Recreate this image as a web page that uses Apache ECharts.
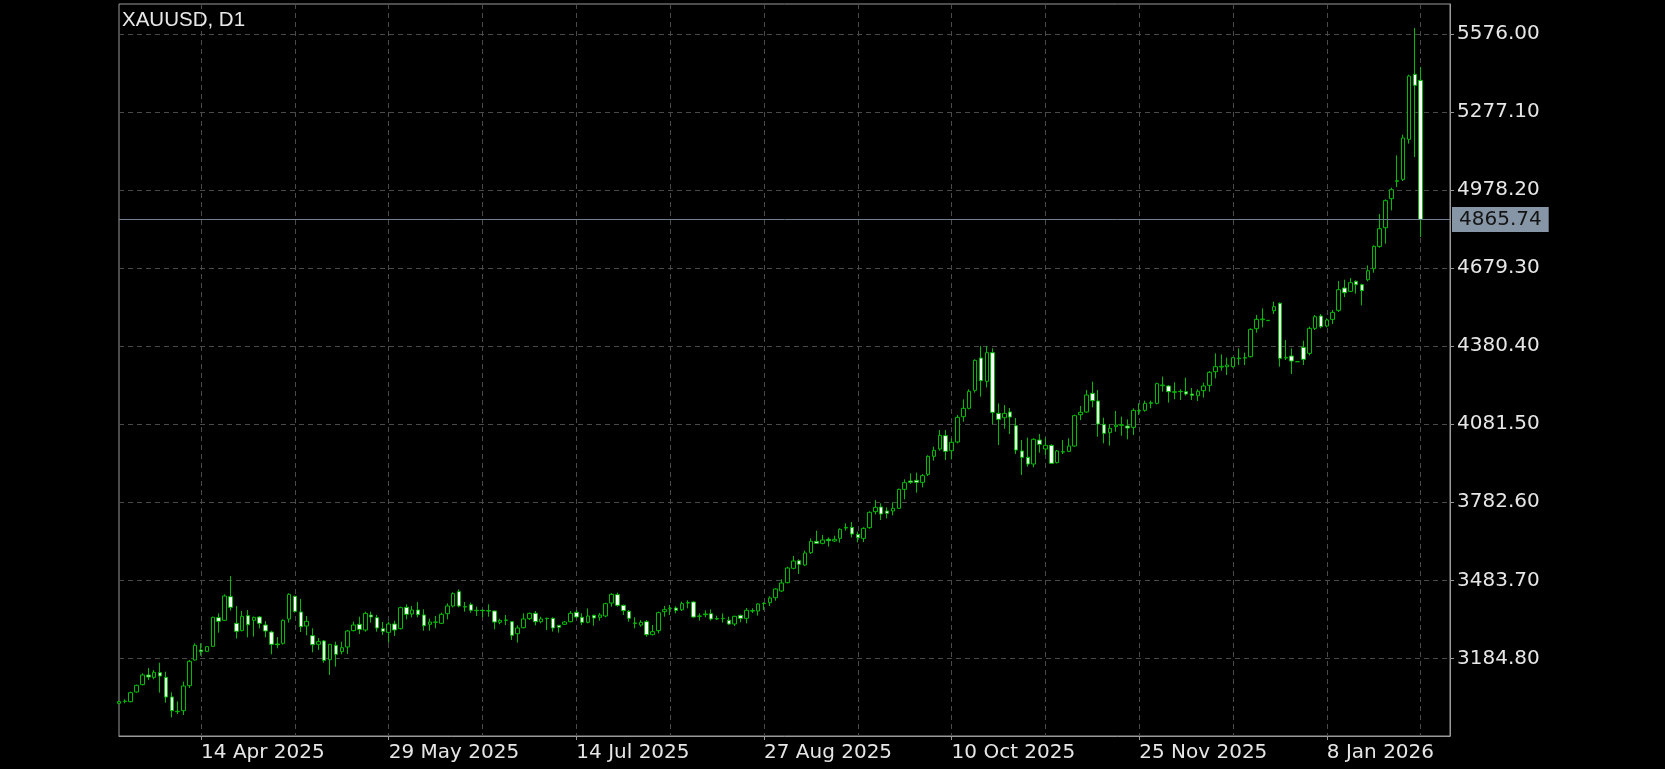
<!DOCTYPE html>
<html>
<head>
<meta charset="utf-8">
<script src="https://cdn.jsdelivr.net/npm/echarts@6/dist/echarts.min.js"></script>
<style>
html,body{margin:0;padding:0;background:#000;}
#chart{width:1665px;height:769px;}
</style>
</head>
<body>
<div id="chart"></div>
<script>
// XAUUSD daily bars (index 0 = first visible bar)
const open = [
3012.8,3020.0,3019.2,3056.2,3084.3,3121.3,3112.3,3130.2,3112.3,3037.0,
2980.9,2984.7,3080.4,3178.7,3217.0,3211.9,3231.0,3340.8,3330.6,3421.2,
3319.1,3291.0,3348.5,3330.6,3343.3,3312.7,3285.9,3240.0,3242.5,3335.7,
3422.5,3362.5,3308.9,3271.9,3238.7,3251.5,3180.0,3234.9,3210.6,3228.5,
3291.0,3315.3,3293.6,3351.0,3340.8,3298.7,3284.6,3316.5,3298.7,3380.4,
3354.8,3370.2,3351.0,3315.3,3322.9,3319.1,3356.1,3385.5,3440.4,3382.9,
3390.6,3367.6,3368.9,3367.6,3366.3,3322.9,3330.6,3325.5,3279.5,3302.5,
3337.0,3357.4,3325.5,3337.0,3338.2,3311.4,3315.3,3325.5,3361.2,3342.1,
3322.9,3349.7,3342.1,3347.2,3396.9,3428.8,3388.0,3365.0,3320.4,3312.7,
3325.5,3275.7,3291.0,3363.8,3375.3,3377.8,3371.4,3396.9,3400.8,3345.9,
3352.3,3356.1,3336.9,3336.9,3330.6,3316.5,3349.7,3338.2,3366.3,3366.3,
3394.4,3398.2,3417.4,3442.9,3474.8,3529.7,3559.0,3542.4,3589.7,3633.1,
3625.4,3640.7,3634.3,3644.5,3684.1,3686.6,3659.8,3644.5,3685.4,3746.6,
3764.5,3749.2,3749.2,3759.4,3832.1,3864.0,3866.6,3858.9,3889.6,3958.5,
3986.6,4037.6,3980.2,4013.4,4110.4,4142.3,4211.2,4335.0,4245.6,4355.4,
4123.1,4106.5,4128.2,4075.9,3978.9,3954.7,3929.1,4021.0,3986.6,4000.6,
3934.2,3975.1,3977.6,3998.0,4118.0,4128.2,4199.7,4170.3,4081.0,4049.1,
4072.1,4077.2,4074.6,4069.5,4132.1,4134.6,4161.4,4161.4,4229.0,4227.8,
4203.5,4206.1,4206.1,4197.1,4190.8,4209.9,4230.3,4282.6,4300.5,4301.8,
4301.8,4332.4,4335.0,4340.1,4447.3,4481.7,4477.9,4516.2,4544.3,4335.0,
4342.6,4320.9,4375.8,4352.9,4448.6,4495.8,4457.5,4483.0,4517.5,4603.0,
4590.2,4628.5,4615.8,4634.9,4677.0,4762.5,4834.0,4945.0,5011.4,5019.1,
5172.2,5421.1,5398.1
];
const high = [
3021.7,3028.1,3057.4,3084.3,3127.7,3148.1,3140.4,3168.5,3134.0,3054.9,
3020.5,3095.7,3178.7,3242.5,3242.5,3232.3,3344.6,3357.4,3430.1,3500.3,
3385.5,3366.3,3370.2,3344.6,3347.2,3328.0,3291.0,3266.8,3334.4,3434.0,
3425.0,3412.3,3347.2,3300.0,3263.0,3255.3,3240.0,3248.9,3248.9,3293.6,
3325.5,3344.6,3363.8,3363.8,3351.0,3324.2,3325.5,3329.3,3382.9,3391.9,
3385.5,3400.8,3372.7,3337.0,3347.2,3360.0,3395.7,3437.8,3449.3,3400.8,
3398.2,3382.9,3372.7,3391.9,3367.6,3337.0,3351.0,3328.0,3311.4,3357.4,
3360.0,3366.3,3344.6,3340.8,3342.1,3312.7,3328.0,3366.3,3370.2,3357.4,
3376.5,3352.3,3358.7,3398.2,3433.9,3436.5,3390.6,3370.2,3342.1,3331.9,
3331.9,3312.7,3363.8,3385.5,3389.3,3384.2,3402.1,3407.2,3403.3,3357.4,
3368.9,3372.7,3348.5,3357.4,3344.6,3348.5,3352.3,3377.8,3376.5,3395.7,
3399.5,3422.5,3453.1,3487.6,3536.1,3576.9,3564.2,3597.3,3644.5,3673.9,
3657.3,3648.3,3654.7,3682.8,3701.9,3707.0,3670.0,3686.6,3747.9,3791.3,
3778.5,3763.2,3782.4,3834.7,3870.4,3893.4,3895.9,3890.8,3962.3,3995.5,
4059.3,4059.3,4027.4,4116.7,4176.7,4215.0,4329.9,4380.9,4380.9,4372.0,
4161.4,4155.0,4143.6,4105.3,4021.0,4030.0,4027.4,4044.0,4030.0,4004.4,
3982.7,4021.0,4027.4,4118.0,4151.2,4212.5,4244.4,4212.5,4106.5,4082.3,
4132.1,4110.4,4100.1,4142.3,4161.4,4171.6,4171.6,4240.5,4263.5,4231.6,
4241.8,4215.0,4259.7,4220.1,4215.0,4240.5,4285.2,4352.9,4349.0,4336.3,
4338.8,4372.0,4355.4,4448.6,4499.6,4525.1,4480.5,4550.7,4548.1,4403.9,
4372.0,4322.2,4401.3,4455.0,4499.6,4503.4,4486.9,4518.8,4629.8,4634.9,
4641.3,4632.3,4619.6,4689.8,4766.4,4886.3,4942.5,4987.2,5111.0,5190.1,
5419.8,5598.5,5449.2
];
const low = [
3009.0,3012.8,3016.6,3053.6,3081.7,3102.1,3104.7,3053.6,3015.4,2959.2,
2971.9,2968.1,3071.5,3176.2,3195.3,3209.3,3228.5,3283.4,3328.0,3367.6,
3260.4,3288.5,3265.5,3268.0,3300.0,3265.5,3200.4,3223.4,3237.4,3321.7,
3360.0,3285.9,3273.2,3208.1,3217.0,3168.5,3121.3,3153.2,3200.4,3201.7,
3288.5,3278.3,3287.2,3321.7,3287.2,3274.4,3245.1,3270.6,3296.1,3334.4,
3342.1,3342.1,3291.0,3291.0,3300.0,3316.5,3334.4,3380.4,3380.4,3363.8,
3360.0,3347.2,3342.1,3344.6,3296.1,3315.3,3312.7,3255.3,3245.1,3300.0,
3331.9,3311.4,3319.1,3293.6,3287.2,3283.4,3312.7,3322.9,3338.2,3312.7,
3319.1,3310.2,3329.3,3342.1,3382.9,3382.9,3351.0,3325.5,3300.0,3306.3,
3268.0,3273.1,3280.8,3344.6,3351.0,3357.4,3366.3,3376.5,3340.8,3329.3,
3342.1,3329.3,3331.9,3321.7,3314.0,3308.9,3322.9,3319.1,3358.7,3348.5,
3370.2,3385.5,3405.9,3439.1,3472.2,3525.9,3508.0,3538.6,3584.6,3622.9,
3621.6,3612.6,3630.5,3627.9,3673.9,3648.3,3629.2,3630.5,3681.5,3736.4,
3714.7,3721.1,3732.6,3756.8,3793.8,3852.6,3819.4,3839.8,3883.2,3941.9,
3980.2,3944.4,3947.0,4008.3,4091.2,4138.4,4202.3,4187.0,4222.7,4082.3,
4001.9,4064.4,4044.0,3967.4,3887.0,3918.9,3916.4,3972.5,3963.6,3929.1,
3931.7,3967.4,3975.1,3995.5,4097.6,4125.7,4146.1,4033.8,4008.3,3999.3,
4052.9,4037.6,4023.6,4040.2,4116.7,4129.5,4142.3,4157.6,4206.1,4164.0,
4176.7,4174.2,4190.8,4174.2,4170.3,4183.1,4206.1,4257.1,4286.5,4269.9,
4299.2,4308.2,4308.2,4337.5,4432.0,4452.4,4476.6,4503.4,4301.8,4327.3,
4273.7,4319.6,4308.2,4345.0,4442.2,4448.6,4452.4,4465.2,4511.1,4568.5,
4587.7,4581.3,4536.6,4628.5,4661.7,4757.4,4772.7,4900.4,4989.7,5012.7,
5155.6,5104.6,4798.3
];
const close = [
3019.2,3021.0,3053.6,3081.7,3121.3,3113.6,3131.5,3117.4,3037.0,2984.7,
2982.2,3079.2,3173.6,3234.9,3210.6,3229.8,3342.1,3326.8,3423.8,3380.4,
3288.5,3345.9,3314.0,3342.1,3319.1,3289.7,3238.7,3237.4,3330.6,3430.1,
3365.0,3306.3,3326.8,3237.4,3248.9,3177.4,3238.7,3200.4,3226.0,3289.7,
3312.7,3296.1,3357.4,3343.3,3301.2,3288.5,3316.5,3293.6,3379.1,3353.6,
3370.2,3352.3,3310.2,3324.2,3324.2,3353.6,3385.5,3432.7,3385.5,3381.6,
3368.9,3368.9,3367.6,3366.3,3324.2,3330.6,3331.9,3273.2,3301.2,3335.7,
3357.4,3325.5,3335.7,3338.2,3301.2,3303.8,3324.2,3357.4,3343.3,3322.9,
3347.2,3339.5,3351.0,3394.4,3430.1,3388.0,3367.6,3338.2,3319.1,3322.9,
3275.7,3287.2,3360.0,3371.4,3376.5,3368.9,3394.4,3398.2,3343.3,3347.2,
3354.8,3335.7,3335.7,3338.2,3316.5,3345.9,3338.2,3368.9,3367.6,3393.1,
3395.7,3416.1,3450.6,3473.5,3531.0,3557.8,3545.0,3588.4,3633.1,3625.4,
3638.2,3635.6,3640.7,3679.0,3686.6,3661.1,3647.1,3682.8,3744.1,3763.2,
3737.7,3740.3,3759.4,3832.1,3857.7,3858.9,3858.9,3884.5,3958.5,3981.5,
4038.9,3977.6,4012.1,4107.8,4142.3,4207.4,4326.1,4248.2,4355.4,4126.9,
4100.2,4123.1,4109.1,3982.7,3954.7,3929.1,4023.6,4004.4,4000.6,3931.7,
3978.9,3976.3,3998.0,4114.2,4127.0,4193.3,4171.6,4082.3,4046.5,4065.7,
4078.4,4079.7,4067.0,4134.6,4133.3,4161.4,4164.0,4236.7,4231.6,4206.1,
4206.1,4207.4,4197.1,4192.0,4207.4,4227.8,4280.1,4301.8,4303.1,4308.2,
4336.3,4335.0,4336.3,4444.7,4483.0,4484.3,4479.2,4531.5,4333.7,4337.5,
4323.5,4320.9,4329.9,4448.6,4493.2,4455.0,4480.5,4509.8,4596.6,4585.1,
4623.4,4615.8,4592.8,4669.3,4762.5,4830.2,4937.4,4979.5,5014.0,5177.3,
5414.7,5379.0,4865.74
];
const lastPrice = 4865.74;
const emptyBarsRight = 5;
const tickBars = [14, 46, 78, 110, 142, 174, 206];
const tickLabels = ['14 Apr 2025', '29 May 2025', '14 Jul 2025', '27 Aug 2025', '10 Oct 2025', '25 Nov 2025', '8 Jan 2026'];
const priceTicks = [3184.8, 3483.7, 3782.6, 4081.5, 4380.4, 4679.3, 4978.2, 5277.1, 5576.0];
const gridBarStep = 16;

const categories = [];
for (let i = 0; i < open.length + emptyBarsRight; i++) categories.push(String(i));
const ohlc = open.map((o, i) => [o, close[i], low[i], high[i]]);

const labelFont = 'DejaVu Sans';
const chart = echarts.init(document.getElementById('chart'), null, {renderer: 'canvas'});
chart.setOption({
  backgroundColor: '#000000',
  animation: false,
  title: {
    text: 'XAUUSD, D1',
    left: 122, top: 10, padding: 0,
    textStyle: {color: '#e8e8e8', fontSize: 20.5, fontWeight: 'normal', fontFamily: 'Liberation Sans'}
  },
  grid: {left: 119, right: 215, top: 4, bottom: 33, show: true, borderColor: '#9a9a9a', borderWidth: 1, backgroundColor: 'transparent'},
  xAxis: {
    type: 'category',
    data: categories,
    boundaryGap: false,
    axisLine: {show: true, lineStyle: {color: '#9a9a9a', width: 1}},
    axisTick: {show: true, length: 4, lineStyle: {color: '#9a9a9a'},
      interval: (i) => tickBars.indexOf(i) >= 0},
    axisLabel: {
      show: true, color: '#e6e6e6', fontFamily: labelFont, fontSize: 20, align: 'left', margin: 7,
      interval: (i) => tickBars.indexOf(i) >= 0,
      formatter: (v, i) => { const k = tickBars.indexOf(Number(v)); return k >= 0 ? tickLabels[k] : ''; }
    },
    splitLine: {show: true, interval: (i) => i >= tickBars[0] && (i - tickBars[0]) % gridBarStep === 0,
      lineStyle: {color: '#4a4a4a', width: 1, type: [5, 4]}}
  },
  yAxis: {
    type: 'value',
    position: 'right',
    min: 2887.7, max: 5690.5,
    scale: true,
    axisLine: {show: true, lineStyle: {color: '#9a9a9a'}},
    axisTick: {show: true, length: 4, customValues: priceTicks, lineStyle: {color: '#9a9a9a'}},
    axisLabel: {show: true, customValues: priceTicks, color: '#e6e6e6', fontFamily: labelFont, fontSize: 20, margin: 7,
      padding: [4, 0, 0, 0],
      formatter: (v) => Number(v).toFixed(2)},
    splitLine: {show: true, lineStyle: {color: '#4a4a4a', width: 1, type: [5, 4]}}
  },
  series: [{
    type: 'candlestick',
    data: ohlc,
    barWidth: 4,
    clip: true,
    itemStyle: {
      color: '#000000', color0: '#ffffff',
      borderColor: '#00bc00', borderColor0: '#00bc00', borderColorDoji: '#00bc00',
      borderWidth: 1
    },
    markLine: {
      silent: true, symbol: 'none', animation: false,
      data: [{yAxis: lastPrice}],
      lineStyle: {color: '#6f8091', width: 1, type: 'solid'},
      label: {show: true, position: 'end', distance: 2, formatter: lastPrice.toFixed(2),
        color: '#141414', backgroundColor: '#8796a6', fontFamily: labelFont, fontSize: 20,
        lineHeight: 20, padding: [4, 7, 1, 7]}
    }
  }]
});
</script>
</body>
</html>
